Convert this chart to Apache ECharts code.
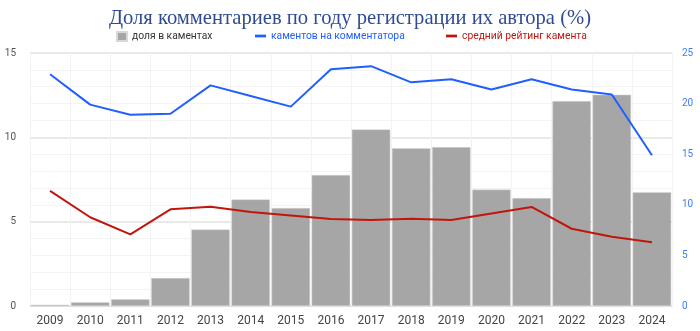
<!DOCTYPE html>
<html><head><meta charset="utf-8">
<script src="https://cdn.jsdelivr.net/npm/echarts@6/dist/echarts.min.js"></script>
<style>html,body{margin:0;padding:0;background:#fff}#c{width:700px;height:331px}</style>
</head><body><div id="c"></div>
<script>
const years = ['2009','2010','2011','2012','2013','2014','2015','2016','2017','2018','2019','2020','2021','2022','2023','2024'];
const shareComments = [0.08,0.22,0.4,1.66,4.54,6.32,5.81,7.77,10.47,9.35,9.42,6.9,6.4,12.15,12.53,6.74];
const commentsPerAuthor = [22.9,19.9,18.9,19.0,21.8,20.75,19.7,23.4,23.7,22.1,22.4,21.4,22.4,21.4,20.9,14.9];
const avgRating = [6.83,5.26,4.25,5.73,5.89,5.57,5.37,5.16,5.1,5.18,5.1,5.49,5.87,4.58,4.11,3.78];
const leftTicks = [0,5,10,15];
const rightTicks = [0,5,10,15,20,25];

const legFont = {fontFamily:'Roboto',fontSize:10.3};
const lineIcon = 'path://M0,0H12V3H0Z';
const chart = echarts.init(document.getElementById('c'));
chart.setOption({
  animation:false,
  title:{text:'Доля комментариев по году регистрации их автора (%)',left:'center',top:3,
    textStyle:{fontFamily:'Liberation Serif',fontSize:20.6,fontWeight:'normal',color:'#2f4c93'}},
  legend:[
    {left:116,top:31,padding:0,itemWidth:10,itemHeight:9,itemGap:5,textStyle:Object.assign({color:'#333'},legFont),
     data:[{name:'доля в каментах',icon:'rect'}]},
    {left:255,top:31,padding:0,itemWidth:11,itemHeight:9,textStyle:Object.assign({color:'#1f5fff'},legFont),
     data:[{name:'каментов на комментатора',icon:lineIcon}]},
    {left:446,top:31,padding:0,itemWidth:11,itemHeight:9,textStyle:Object.assign({color:'#c0160e'},legFont),
     data:[{name:'средний рейтинг камента',icon:lineIcon}]}
  ],
  grid:{left:30,right:28,top:53,bottom:25},
  xAxis:{type:'category',data:years,
    axisLine:{show:true,lineStyle:{color:'#e0e0e0'}},axisTick:{show:false},
    axisLabel:{color:'#444',fontSize:12,fontFamily:'Roboto',margin:9},
    splitLine:{show:true,lineStyle:{color:'#f3f3f3'}}},
  yAxis:[
    {type:'value',min:leftTicks[0],max:leftTicks[leftTicks.length-1],interval:5,
     axisLabel:{color:'#555',fontSize:10,fontFamily:'Roboto',margin:14},
     axisLine:{show:false},axisTick:{show:false},
     splitLine:{lineStyle:{color:'#e2e2e2',width:1.5}},
     minorTick:{show:false,splitNumber:5},
     minorSplitLine:{show:true,lineStyle:{color:'#f3f3f3'}}},
    {type:'value',min:rightTicks[0],max:rightTicks[rightTicks.length-1],interval:5,
     axisLabel:{color:'#3d7bff',fontSize:10,fontFamily:'Roboto',margin:10},
     axisLine:{show:false},axisTick:{show:false},splitLine:{show:false}}
  ],
  series:[
    {name:'доля в каментах',type:'bar',data:shareComments,yAxisIndex:0,barCategoryGap:'4%',
     itemStyle:{color:'#a6a6a6',borderColor:'#d8d8d8',borderWidth:0.5}},
    {name:'каментов на комментатора',type:'line',data:commentsPerAuthor,yAxisIndex:1,
     showSymbol:false,symbol:'none',lineStyle:{color:'#1f5fff',width:2},itemStyle:{color:'#1f5fff'}},
    {name:'средний рейтинг камента',type:'line',data:avgRating,yAxisIndex:0,
     showSymbol:false,symbol:'none',lineStyle:{color:'#c0160e',width:2},itemStyle:{color:'#c0160e'}}
  ]
});
</script></body></html>
